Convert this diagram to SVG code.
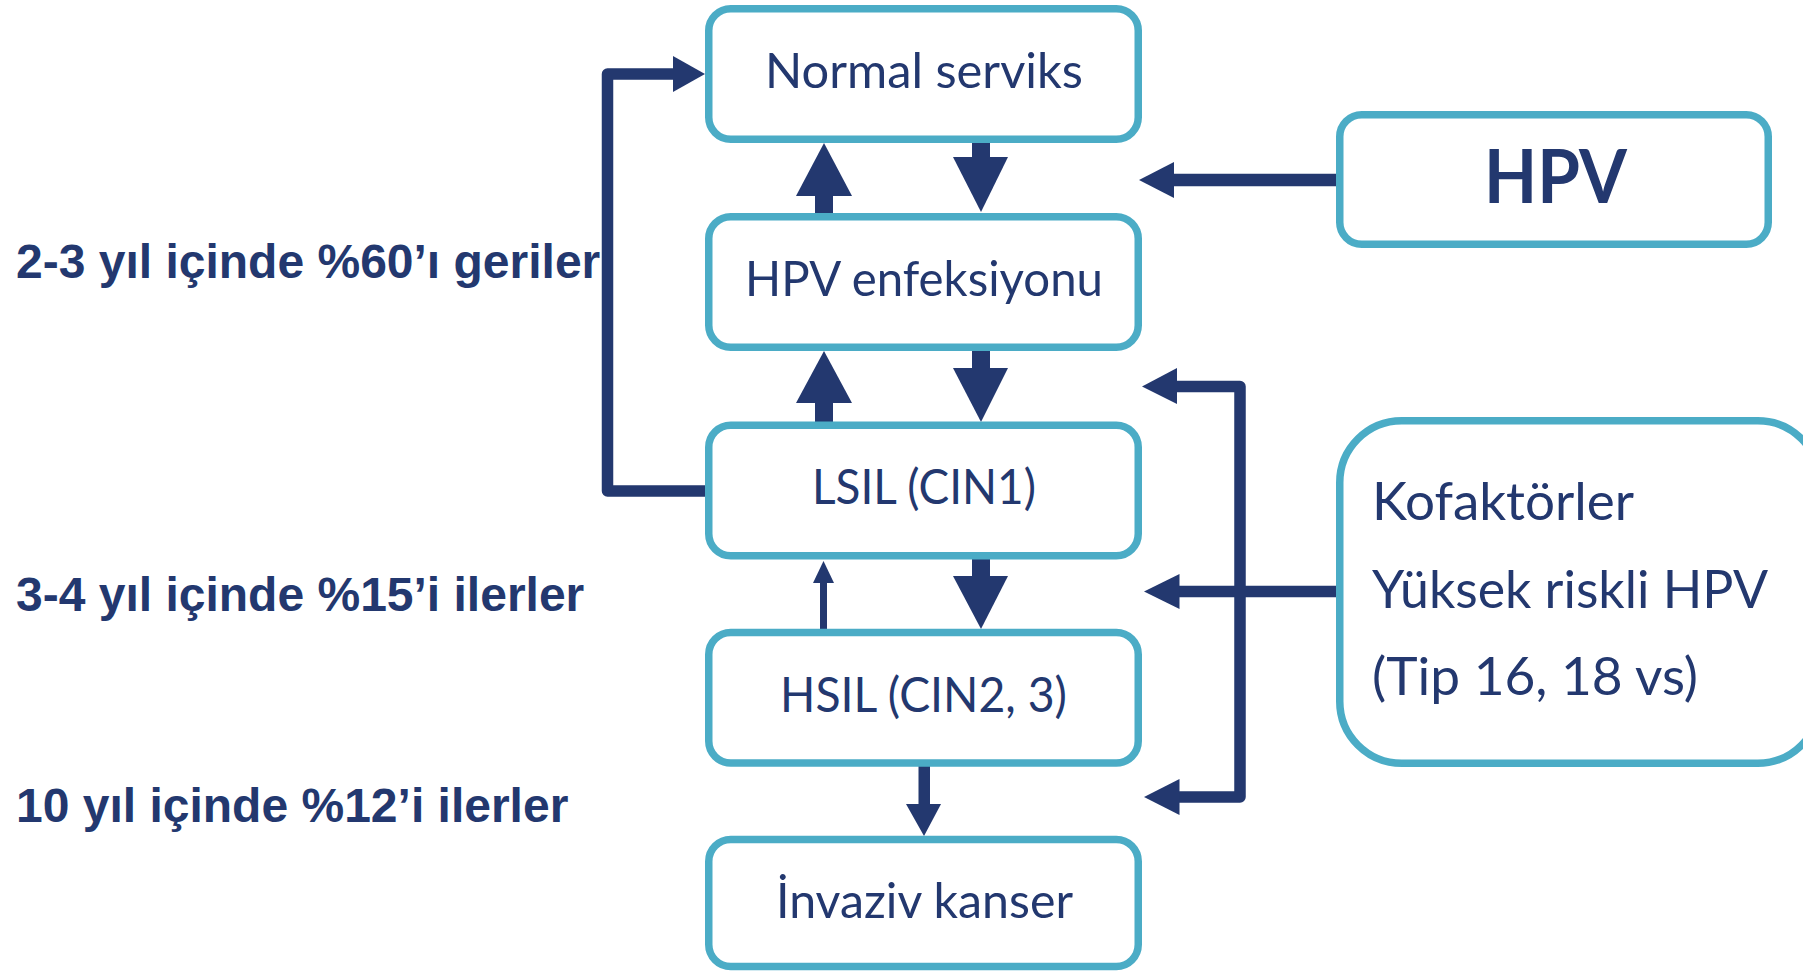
<svg xmlns="http://www.w3.org/2000/svg" width="1803" height="971" viewBox="0 0 1803 971">
<style>
.box{fill:#fff;stroke:#4BACC6;stroke-width:7.5}
.bt{font-family:Lato,"Open Sans",sans-serif;font-size:49px;fill:#23386F;text-anchor:middle}
.kt{font-family:Lato,"Open Sans",sans-serif;font-size:52px;fill:#23386F}
.lb{font-family:"Liberation Sans",Arial,sans-serif;font-weight:bold;font-size:48px;fill:#23386F}
.ln{fill:none;stroke:#23386F;stroke-linejoin:round}
.ah{fill:#23386F}
</style>
<rect width="1803" height="971" fill="#fff"/>
<g id="connectors">
  <path class="ln" d="M709 491 H607.5 V74 H674" stroke-width="11.5"/>
  <polygon class="ah" points="673,56 705,74 673,92"/>
  <rect class="ah" x="815" y="195" width="18" height="19"/>
  <polygon class="ah" points="796,196 852,196 824,143"/>
  <rect class="ah" x="972" y="142" width="18" height="16"/>
  <polygon class="ah" points="953,157 1008,157 981,212"/>
  <rect class="ah" x="815" y="402" width="18" height="21"/>
  <polygon class="ah" points="796,403 852,403 824,351"/>
  <rect class="ah" x="972" y="350" width="18" height="19"/>
  <polygon class="ah" points="953,368 1008,368 981,422"/>
  <rect class="ah" x="820" y="582" width="7" height="48"/>
  <polygon class="ah" points="813,583 834,583 823.5,561"/>
  <rect class="ah" x="972" y="559" width="18" height="18"/>
  <polygon class="ah" points="953,576 1008,576 981,629"/>
  <rect class="ah" x="918.5" y="766" width="11.5" height="39"/>
  <polygon class="ah" points="906,804 941,804 924,836"/>
  <path class="ln" d="M1337 180 H1173" stroke-width="12.5"/>
  <polygon class="ah" points="1174,162 1174,198 1139,180"/>
  <path class="ln" d="M1176 386.5 H1240 V797 H1178" stroke-width="11.5"/>
  <polygon class="ah" points="1177,368 1177,404 1142,386.5"/>
  <polygon class="ah" points="1179.5,779 1179.5,815 1144,797"/>
  <path class="ln" d="M1337 591.5 H1178" stroke-width="11.5"/>
  <polygon class="ah" points="1179.5,574 1179.5,609 1144,591.5"/>
</g>
<g id="normal-serviks">
  <rect class="box" x="708.75" y="8.75" width="429.5" height="130.5" rx="22"/>
  <text class="bt" x="924" y="88" textLength="318" lengthAdjust="spacingAndGlyphs">Normal serviks</text>
</g>
<g id="hpv-enfeksiyonu">
  <rect class="box" x="708.75" y="216.75" width="429.5" height="130.5" rx="22"/>
  <text class="bt" x="924" y="296" textLength="358" lengthAdjust="spacingAndGlyphs">HPV enfeksiyonu</text>
</g>
<g id="lsil">
  <rect class="box" x="708.75" y="425.25" width="429.5" height="130.5" rx="22"/>
  <text class="bt" x="924" y="504" textLength="224" lengthAdjust="spacingAndGlyphs">LSIL (CIN1)</text>
</g>
<g id="hsil">
  <rect class="box" x="708.75" y="632.5" width="429.5" height="130.5" rx="22"/>
  <text class="bt" x="923.5" y="712" textLength="287" lengthAdjust="spacingAndGlyphs">HSIL (CIN2, 3)</text>
</g>
<g id="invaziv-kanser">
  <rect class="box" x="708.75" y="839.5" width="429.5" height="127" rx="22"/>
  <text class="bt" x="924.5" y="918" textLength="297" lengthAdjust="spacingAndGlyphs">İnvaziv kanser</text>
</g>
<g id="hpv">
  <rect class="box" x="1339.75" y="114.75" width="428.5" height="129.5" rx="22"/>
  <text class="bt" x="1555.5" y="203" style="font-weight:bold;font-size:74px" textLength="143" lengthAdjust="spacingAndGlyphs">HPV</text>
</g>
<g id="kofaktorler">
  <rect class="box" x="1339.75" y="420.75" width="480" height="342.5" rx="62"/>
  <text class="kt" x="1372" y="520" textLength="262" lengthAdjust="spacingAndGlyphs">Kofaktörler</text>
  <text class="kt" x="1372" y="608" textLength="396" lengthAdjust="spacingAndGlyphs">Yüksek riskli HPV</text>
  <text class="kt" x="1372" y="695" textLength="326" lengthAdjust="spacingAndGlyphs">(Tip 16, 18 vs)</text>
</g>
<g id="labels">
  <text class="lb" x="16" y="278">2-3 yıl içinde %60’ı geriler</text>
  <text class="lb" x="16" y="611">3-4 yıl içinde %15’i ilerler</text>
  <text class="lb" x="16" y="822">10 yıl içinde %12’i ilerler</text>
</g>
</svg>
